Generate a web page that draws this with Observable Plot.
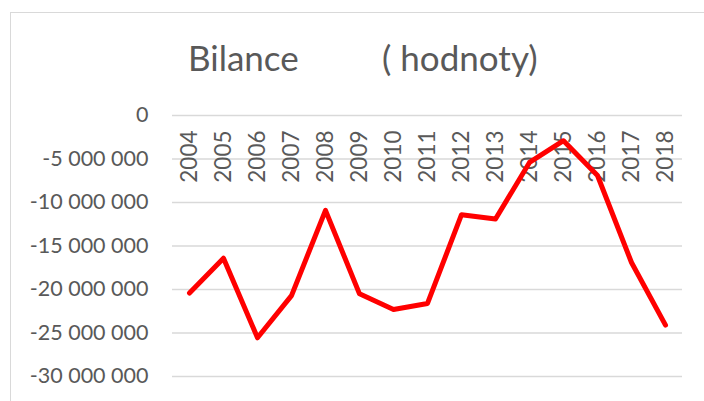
<!DOCTYPE html>
<html>
<head>
<meta charset="utf-8">
<script src="https://cdn.jsdelivr.net/npm/d3@7"></script>
<script src="https://cdn.jsdelivr.net/npm/@observablehq/plot@0.6"></script>
<style>
  html, body { margin: 0; padding: 0; background: #fff; }
  #wrap { position: relative; width: 704px; height: 401px; overflow: hidden; background: #fff; }
  #frame { position: absolute; left: 10px; top: 12px; width: 900px; height: 600px; border: 1.5px solid #d9d9d9; box-sizing: border-box; }
  .t { position: absolute; font-family: Lato, sans-serif; font-size: 35px; color: #595959; white-space: pre; line-height: 1; }
  #chart { position: absolute; left: 0; top: 0; }
</style>
</head>
<body>
<div id="wrap">
  <div id="frame"></div>
  <div id="chart"></div>
  <div class="t" id="t1" style="left:188px; top:40px;">Bilance</div>
  <div class="t" id="t2" style="left:382px; top:40px;">( hodnoty)</div>
</div>
<script>
const years = ["2004","2005","2006","2007","2008","2009","2010","2011","2012","2013","2014","2015","2016","2017","2018"];
const bilance = [-20400000,-16400000,-25550000,-20700000,-10900000,-20500000,-22300000,-21600000,-11400000,-11900000,-5400000,-2900000,-6900000,-16900000,-24100000];
const yTicks = [0,-5000000,-10000000,-15000000,-20000000,-25000000,-30000000];

const data = years.map((y, i) => ({year: y, value: bilance[i]}));
const loc = d3.formatLocale({decimal: ",", thousands: " ", grouping: [3], currency: ["", ""], minus: "-"});
const fmt = loc.format(",");

const chart = Plot.plot({
  width: 704,
  height: 401,
  marginTop: 115,
  marginBottom: 25,
  marginLeft: 172,
  marginRight: 22,
  style: {fontFamily: "Lato, sans-serif", color: "#595959", background: "transparent"},
  x: {type: "point", domain: years, padding: 0.5, axis: null},
  y: {domain: [-30000000, 0], ticks: yTicks, tickFormat: fmt},
  marks: [
    Plot.gridY(yTicks, {stroke: "#d9d9d9", strokeOpacity: 1, strokeWidth: 1.6}),
    Plot.axisY(yTicks, {tickSize: 0, tickPadding: 24, fontSize: 21.5, label: null, fill: "#595959", tickFormat: fmt}),
    Plot.text(years, {x: d => d, y: () => 0, text: d => d, rotate: -90, textAnchor: "end", dy: 15, fontSize: 22.5, fill: "#595959"}),
    Plot.line(data, {x: "year", y: "value", stroke: "#ff0000", strokeWidth: 5, strokeLinejoin: "round", strokeLinecap: "round"})
  ]
});
document.getElementById("chart").appendChild(chart);
</script>
</body>
</html>
